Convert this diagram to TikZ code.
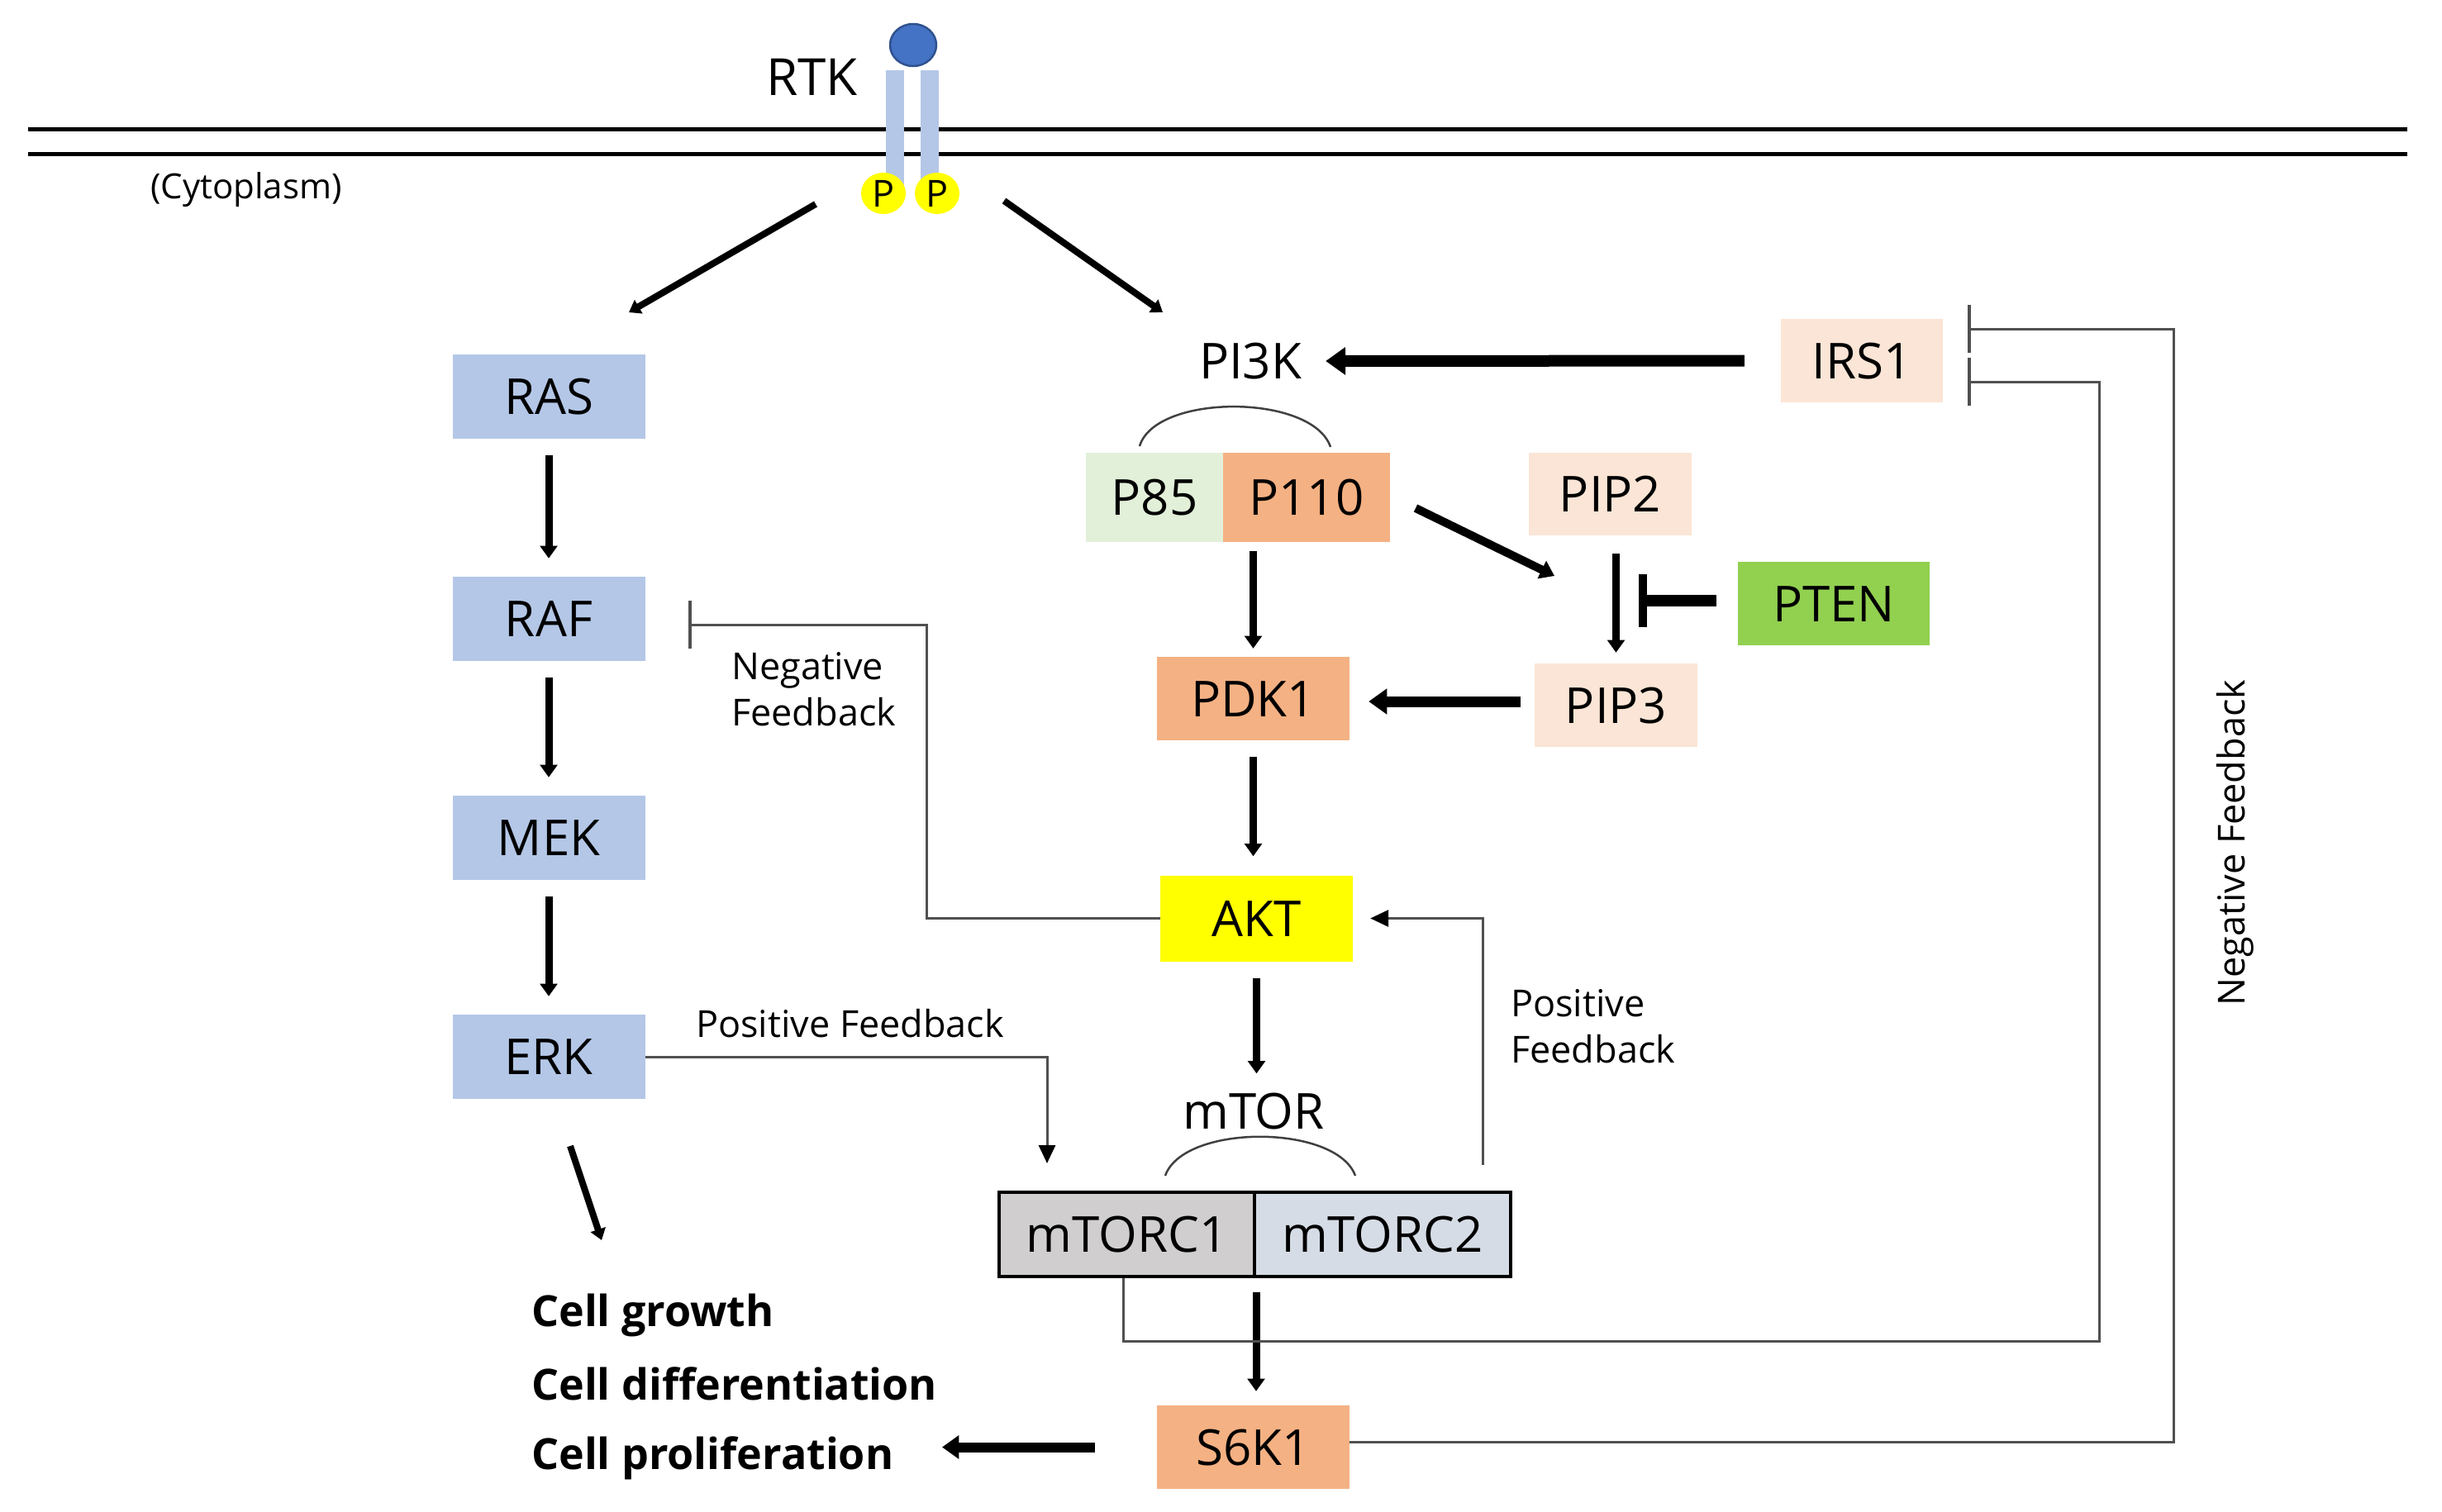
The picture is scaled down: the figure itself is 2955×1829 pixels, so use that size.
\documentclass[tikz,border=0pt]{standalone}
\usepackage{fontspec}
\setmainfont{Open Sans}
\usetikzlibrary{arrows.meta,shapes.geometric}
\definecolor{rasblue}{HTML}{B4C7E7}
\definecolor{p85green}{HTML}{E2F0D9}
\definecolor{korange}{HTML}{F4B183}
\definecolor{lpeach}{HTML}{FBE5D6}
\definecolor{ptengreen}{HTML}{92D050}
\definecolor{aktyellow}{HTML}{FFFF00}
\definecolor{torcgray}{HTML}{D0CECE}
\definecolor{torcblue}{HTML}{D6DCE5}
\definecolor{rtkblue}{HTML}{4472C4}
\definecolor{rtkedge}{HTML}{2F528F}
\definecolor{fbgray}{HTML}{505050}
\begin{document}
\begin{tikzpicture}[x=1pt,y=-1pt,
 boxnode/.style={inner sep=0pt, minimum width=233pt, minimum height=102pt, font=\fontsize{60}{72}\selectfont, text height=43pt, text depth=0pt},
 plaintext/.style={inner sep=0pt, font=\fontsize{60}{72}\selectfont, text height=43pt, text depth=0pt},
 lab/.style={inner sep=0pt, font=\fontsize{45}{56}\selectfont},
 outcome/.style={inner sep=0pt, font=\bfseries\fontsize{52}{62}\selectfont, anchor=base west},
 thickarr/.style={line width=#1, -{Triangle[length=0pt 1.7, width=0pt 2.3]}},
 thickarr/.default=9pt,
 fbline/.style={draw=fbgray, line width=3pt},
 fbarrow/.style={fbline, -{Triangle[length=22pt, width=20pt, color=black]}},
 fbbar/.style={fbline, -{Bar[width=58pt, line width=3.5pt]}},
 arcline/.style={draw=black!75, line width=2.5pt},
]
\fill[white] (0,0) rectangle (2955,1829);
\useasboundingbox (0,0) rectangle (2955,1829);

% membrane
\draw[line width=5pt] (34,156) -- (2913,156);
\draw[line width=5pt] (34,186) -- (2913,186);
\fill[rasblue] (1072,85) rectangle (1094,228);
\fill[rasblue] (1114,85) rectangle (1136,228);
\node[ellipse, fill=rtkblue, draw=rtkedge, line width=2.5pt, minimum width=56pt, minimum height=51pt, inner sep=0pt] (ligand) at (1105,54.5) {};
\node[ellipse, fill=aktyellow, minimum width=54pt, minimum height=50pt, inner sep=0pt, font=\fontsize{45}{54}\selectfont, text height=32pt, text depth=0pt] (P1) at (1069,234) {P};
\node[ellipse, fill=aktyellow, minimum width=54pt, minimum height=50pt, inner sep=0pt, font=\fontsize{45}{54}\selectfont, text height=32pt, text depth=0pt] (P2) at (1134,234) {P};
\node[inner sep=0pt, font=\fontsize{62}{74}\selectfont, anchor=base] (RTK) at (982.5,115) {RTK};
\node[inner sep=0pt, font=\fontsize{42}{50}\selectfont] (cyto) at (298,230) {(Cytoplasm)};

% boxes
\node[boxnode, fill=rasblue] (RAS) at (664,480) {RAS};
\node[boxnode, fill=rasblue] (RAF) at (664,749) {RAF};
\node[boxnode, fill=rasblue] (MEK) at (664,1014) {MEK};
\node[boxnode, fill=rasblue] (ERK) at (664,1279) {ERK};
\node[plaintext] (PI3K) at (1513,437) {PI3K};
\node[boxnode, fill=p85green, minimum width=166pt, minimum height=108pt] (P85) at (1397,602) {P85};
\node[boxnode, fill=korange, minimum width=202pt, minimum height=108pt] (P110) at (1581,602) {P110};
\node[boxnode, fill=lpeach, minimum width=197pt, minimum height=100pt] (PIP2) at (1948.5,598) {PIP2};
\node[boxnode, fill=ptengreen, minimum width=232pt, minimum height=101pt] (PTEN) at (2219,730.5) {PTEN};
\node[boxnode, fill=lpeach, minimum width=197pt, minimum height=101pt] (PIP3) at (1955.5,853.5) {PIP3};
\node[boxnode, fill=korange, minimum height=101pt] (PDK1) at (1516.5,845.5) {PDK1};
\node[boxnode, fill=lpeach, minimum width=196pt, minimum height=101pt] (IRS1) at (2253,436.5) {IRS1};
\node[boxnode, fill=aktyellow, minimum height=104pt] (AKT) at (1520.5,1111.5) {AKT};
\node[plaintext] (mTOR) at (1517,1345) {mTOR};
\node[boxnode, fill=torcgray, draw=black, line width=4pt, minimum width=309pt, minimum height=102pt] (mTORC1) at (1363.5,1494) {mTORC1};
\node[boxnode, fill=torcblue, draw=black, line width=4pt, minimum width=310pt, minimum height=102pt] (mTORC2) at (1673,1494) {mTORC2};
\node[boxnode, fill=korange, minimum height=101pt] (S6K1) at (1516.5,1751.5) {S6K1};

% outcomes
\node[outcome] (growth) at (643,1605) {Cell growth};
\node[outcome] (diff) at (643,1694) {Cell differentiation};
\node[outcome] (prolif) at (643,1778) {Cell proliferation};

% labels
\node[lab, anchor=base west, align=left] (nfLabel) at (885,878) {Negative\\Feedback};
\node[lab, anchor=base west] (pfLabel) at (842,1255) {Positive Feedback};
\node[lab, anchor=base west, align=left] (pf2Label) at (1828,1286) {Positive\\Feedback};
\node[lab, rotate=90] (nf2Label) at (2705,1020) {Negative Feedback};

% arcs
\draw[arcline] (1379,540) .. controls (1398,476) and (1588,476) .. (1610,541);
\draw[arcline] (1410,1423) .. controls (1432,1360) and (1617,1360) .. (1640,1423);

% coordinates
\coordinate (rtkLs) at (987,247); \coordinate (rtkLe) at (761,378);
\coordinate (rtkRs) at (1215,243); \coordinate (rtkRe) at (1407,378);
\coordinate (p110out) at (1713,615); \coordinate (pip3in) at (1881,697);
\coordinate (ptenbar) at (1983,727);
\coordinate (pdky) at (0,849);
\coordinate (prolifTip) at (1140,0);
\coordinate (erkOut) at (690,1387); \coordinate (growthIn) at (728,1501);
\coordinate (nfAKTc) at (1121,756); \coordinate (rafbar) at (833,756);
\coordinate (erkDown) at (1267,1408);
\coordinate (pfUp) at (1794,1410);
\coordinate (irsLow) at (2381,462); \coordinate (innerC) at (2540,1623);
\coordinate (irsUp) at (2381,398); \coordinate (outerC) at (2630,1745);

% thick arrows
\draw[thickarr=8pt] (rtkLs) -- (rtkLe);
\draw[thickarr=8pt] (rtkRs) -- (rtkRe);
\draw[thickarr, shorten <=20pt, shorten >=22pt] (RAS) -- (RAF);
\draw[thickarr, shorten <=20pt, shorten >=22pt] (RAF) -- (MEK);
\draw[thickarr, shorten <=20pt, shorten >=22pt] (MEK) -- (ERK);
\draw[thickarr=8pt] (erkOut) -- (growthIn);
\draw[thickarr=14pt, shorten <=44pt, shorten >=29pt] (IRS1.west) -- (PI3K.east);
\draw[thickarr=10pt] (p110out) -- (pip3in);
\draw[thickarr, shorten <=11pt, shorten >=10pt] (PDK1.north |- P110.south) -- (PDK1.north);
\draw[thickarr, shorten <=22pt, shorten >=13pt] (PIP3.north |- PIP2.south) -- (PIP3.north);
\draw[line width=14pt, -{Bar[width=64pt, line width=10pt]}, shorten <=26pt] (ptenbar -| PTEN.west) -- (ptenbar);
\draw[thickarr=13pt, shorten <=17pt, shorten >=23pt] (PIP3.west |- pdky) -- (PDK1.east |- pdky);
\draw[thickarr, shorten <=20pt, shorten >=23pt] (PDK1.south) -- (PDK1.south |- AKT.north);
\draw[thickarr, shorten <=20pt, shorten >=24pt] (AKT.south) -- (AKT.south |- mTOR.north);
\draw[thickarr, shorten <=17pt, shorten >=17pt] (mTORC1.south east) -- (mTORC1.south east |- S6K1.north);
\draw[thickarr=12pt, shorten <=75pt] (S6K1.west) -- (S6K1.west -| prolifTip);

% feedback lines
\draw[fbbar] (AKT.west) -| (nfAKTc) -- (rafbar);
\draw[fbarrow] (ERK.east) -| (erkDown);
\draw[fbarrow, shorten >=21pt] (pfUp) |- (AKT.east);
\draw[fbbar] ([xshift=-4.5pt]mTORC1.south) |- (innerC) |- (irsLow);
\draw[fbbar] (S6K1.east |- outerC) -- (outerC) |- (irsUp);
\end{tikzpicture}
\end{document}
